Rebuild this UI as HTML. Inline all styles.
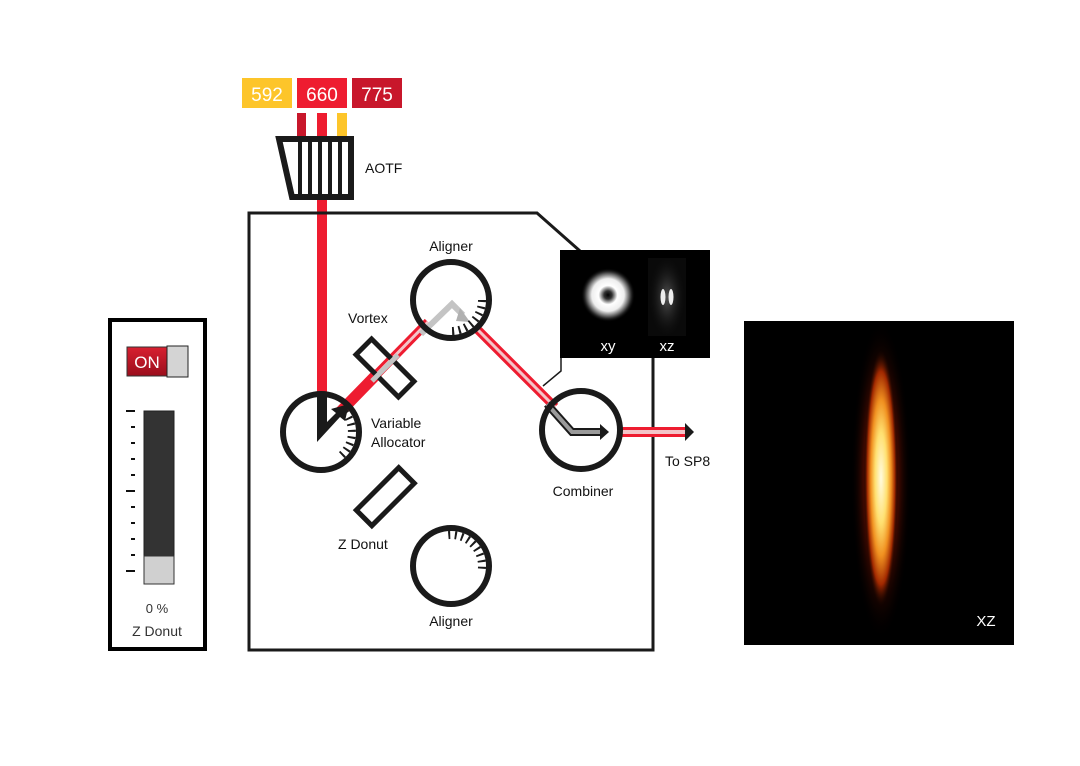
<!DOCTYPE html>
<html><head><meta charset="utf-8"><style>
html,body{margin:0;padding:0;background:#fff;}
svg{display:block;}
text{font-family:"Liberation Sans",sans-serif;}
</style></head><body>
<svg width="1080" height="766" viewBox="0 0 1080 766" xmlns="http://www.w3.org/2000/svg">
<defs>
<clipPath id="xzclip"><rect x="744" y="321" width="270" height="324"/></clipPath>
<radialGradient id="glow" cx="0.5" cy="0.5" r="0.5">
<stop offset="0" stop-color="#fffbe0"/>
<stop offset="0.35" stop-color="#ffe070"/>
<stop offset="0.6" stop-color="#f09020"/>
<stop offset="0.82" stop-color="#a02800"/>
<stop offset="1" stop-color="#000" stop-opacity="0"/>
</radialGradient>
<radialGradient id="halo" cx="0.5" cy="0.5" r="0.5">
<stop offset="0" stop-color="#7a1800"/>
<stop offset="0.6" stop-color="#3a0800"/>
<stop offset="1" stop-color="#000" stop-opacity="0"/>
</radialGradient>
<radialGradient id="donut" cx="0.5" cy="0.5" r="0.5">
<stop offset="0" stop-color="#000"/>
<stop offset="0.15" stop-color="#333"/>
<stop offset="0.35" stop-color="#fff"/>
<stop offset="0.6" stop-color="#eee"/>
<stop offset="0.85" stop-color="#333"/>
<stop offset="1" stop-color="#000" stop-opacity="0"/>
</radialGradient>
<radialGradient id="xzg" cx="0.5" cy="0.5" r="0.5">
<stop offset="0" stop-color="#555"/>
<stop offset="1" stop-color="#111" stop-opacity="0"/>
</radialGradient>
<linearGradient id="onG" x1="0" y1="0" x2="0" y2="1">
<stop offset="0" stop-color="#d82030"/><stop offset="1" stop-color="#9a0e1c"/>
</linearGradient>
</defs>

<rect x="242" y="78" width="50" height="30" fill="#fdc52a"/>
<rect x="297" y="78" width="50" height="30" fill="#ee1c30"/>
<rect x="352" y="78" width="50" height="30" fill="#c8172b"/>
<text x="267" y="101" fill="#fff" font-size="19" text-anchor="middle">592</text>
<text x="322" y="101" fill="#fff" font-size="19" text-anchor="middle">660</text>
<text x="377" y="101" fill="#fff" font-size="19" text-anchor="middle">775</text>
<rect x="297" y="113" width="9" height="23" fill="#c8172b"/>
<rect x="317" y="113" width="10" height="23" fill="#ee1c30"/>
<rect x="337" y="113" width="10" height="23" fill="#fdc52a"/>

<rect x="317" y="198" width="10" height="196" fill="#ee1c30"/>

<polygon points="279,139 351,139 351,197 292,197" fill="#fff" stroke="#1a1a1a" stroke-width="6"/>
<g stroke="#1a1a1a" stroke-width="4">
<line x1="300" y1="140" x2="300" y2="196"/><line x1="310" y1="140" x2="310" y2="196"/>
<line x1="320" y1="140" x2="320" y2="196"/><line x1="330" y1="140" x2="330" y2="196"/>
<line x1="340" y1="140" x2="340" y2="196"/>
</g>
<text x="365" y="173" font-size="14" fill="#111">AOTF</text>

<path d="M580,251 L537,213 L249,213 L249,650 L653,650 L653,358" fill="none" stroke="#1a1a1a" stroke-width="3"/>
<polyline points="561,358 561,371 543,386" fill="none" stroke="#1a1a1a" stroke-width="1.5"/>

<line x1="340" y1="412" x2="378" y2="373" stroke="#ee1c30" stroke-width="11"/>
<line x1="376" y1="375" x2="428" y2="322" stroke="#ee1c30" stroke-width="9"/>
<line x1="376" y1="375" x2="428" y2="322" stroke="#f4c4c8" stroke-width="3"/>
<line x1="476" y1="328" x2="555" y2="407" stroke="#ee1c30" stroke-width="9"/>
<line x1="476" y1="328" x2="555" y2="407" stroke="#f4c4c8" stroke-width="3"/>
<line x1="620" y1="432" x2="686" y2="432" stroke="#ee1c30" stroke-width="10"/>
<line x1="620" y1="432" x2="686" y2="432" stroke="#f4c4c8" stroke-width="4"/>
<polygon points="685,423 694,432 685,441" fill="#1a1a1a"/>

<rect x="355" y="357" width="60" height="22" transform="rotate(45 385 368)" fill="none" stroke="#1a1a1a" stroke-width="5"/>
<line x1="372" y1="381" x2="398" y2="355" stroke="#c4c4c4" stroke-width="5"/>
<text x="348" y="323" font-size="14" fill="#111">Vortex</text>

<rect x="355" y="485" width="60" height="22" transform="rotate(-45 386 496)" fill="none" stroke="#1a1a1a" stroke-width="5"/>
<text x="338" y="549" font-size="14" fill="#111">Z Donut</text>

<circle cx="321" cy="432" r="38" fill="none" stroke="#1a1a1a" stroke-width="6"/>
<path d="M344.7,412.1 A31,31 0 0 1 340.9,455.7" fill="none" stroke="#1a1a1a" stroke-width="8" stroke-dasharray="2 4.5"/>
<polygon points="317,392 327,392 327,422 336,413 331,409 349,404 345,421 340,417 317,442" fill="#1a1a1a"/>
<text x="371" y="428" font-size="14" fill="#111">Variable</text>
<text x="371" y="447" font-size="14" fill="#111">Allocator</text>

<polyline points="421,334 452,304 463,315" fill="none" stroke="#c4c4c4" stroke-width="6"/>
<polygon points="460,308 470,322 456,321" fill="#b0b0b0"/>
<circle cx="451" cy="300" r="38" fill="none" stroke="#1a1a1a" stroke-width="6"/>
<path d="M482,300 A31,31 0 0 1 448.3,330.9" fill="none" stroke="#1a1a1a" stroke-width="8" stroke-dasharray="2 4.5"/>
<text x="451" y="251" font-size="14" fill="#111" text-anchor="middle">Aligner</text>

<polyline points="547,404 572,432 600,432" fill="none" stroke="#1a1a1a" stroke-width="8"/>
<polyline points="547,404 572,432 600,432" fill="none" stroke="#9a9a9a" stroke-width="4"/>
<polygon points="600,424 609,432 600,440" fill="#1a1a1a"/>
<circle cx="581" cy="430" r="39" fill="none" stroke="#1a1a1a" stroke-width="6"/>
<text x="583" y="496" font-size="14" fill="#111" text-anchor="middle">Combiner</text>
<text x="665" y="466" font-size="14" fill="#111">To SP8</text>

<circle cx="451" cy="566" r="38" fill="none" stroke="#1a1a1a" stroke-width="6"/>
<path d="M448.3,535.1 A31,31 0 0 1 481.9,568.7" fill="none" stroke="#1a1a1a" stroke-width="8" stroke-dasharray="2 4.5"/>
<text x="451" y="626" font-size="14" fill="#111" text-anchor="middle">Aligner</text>

<rect x="560" y="250" width="150" height="108" fill="#000"/>
<circle cx="608" cy="295" r="27" fill="url(#donut)"/>
<rect x="648" y="258" width="38" height="78" fill="#0a0a0a"/>
<ellipse cx="667" cy="297" rx="18" ry="40" fill="url(#xzg)"/>
<ellipse cx="663" cy="297" rx="2.5" ry="8" fill="#eee"/>
<ellipse cx="671" cy="297" rx="2.5" ry="8" fill="#eee"/>
<text x="608" y="351" font-size="15" fill="#fff" text-anchor="middle">xy</text>
<text x="667" y="351" font-size="15" fill="#fff" text-anchor="middle">xz</text>

<rect x="110" y="320" width="95" height="329" fill="#fff" stroke="#000" stroke-width="4"/>
<rect x="127" y="347" width="40" height="29" fill="url(#onG)" stroke="#333" stroke-width="1"/>
<rect x="167" y="346" width="21" height="31" fill="#d4d4d4" stroke="#222" stroke-width="1"/>
<text x="147" y="368" font-size="17" fill="#fff" text-anchor="middle">ON</text>
<rect x="144" y="411" width="30" height="173" fill="#333" stroke="#222" stroke-width="1"/>
<rect x="144" y="556" width="30" height="28" fill="#d0d0d0" stroke="#333" stroke-width="1"/>
<g stroke="#111" stroke-width="2">
<line x1="126" y1="411" x2="135" y2="411"/><line x1="131" y1="427" x2="135" y2="427"/>
<line x1="131" y1="443" x2="135" y2="443"/><line x1="131" y1="459" x2="135" y2="459"/>
<line x1="131" y1="475" x2="135" y2="475"/><line x1="126" y1="491" x2="135" y2="491"/>
<line x1="131" y1="507" x2="135" y2="507"/><line x1="131" y1="523" x2="135" y2="523"/>
<line x1="131" y1="539" x2="135" y2="539"/><line x1="131" y1="555" x2="135" y2="555"/>
<line x1="126" y1="571" x2="135" y2="571"/>
</g>
<text x="157" y="613" font-size="13" fill="#333" text-anchor="middle">0 %</text>
<text x="157" y="636" font-size="14" fill="#333" text-anchor="middle">Z Donut</text>

<rect x="744" y="321" width="270" height="324" fill="#000"/>
<g clip-path="url(#xzclip)">
<ellipse cx="881" cy="480" rx="30" ry="160" fill="url(#halo)"/>
<ellipse cx="881" cy="478" rx="17" ry="130" fill="url(#glow)"/>
</g>
<text x="986" y="626" font-size="15" fill="#fff" text-anchor="middle">XZ</text>
</svg>
</body></html>
